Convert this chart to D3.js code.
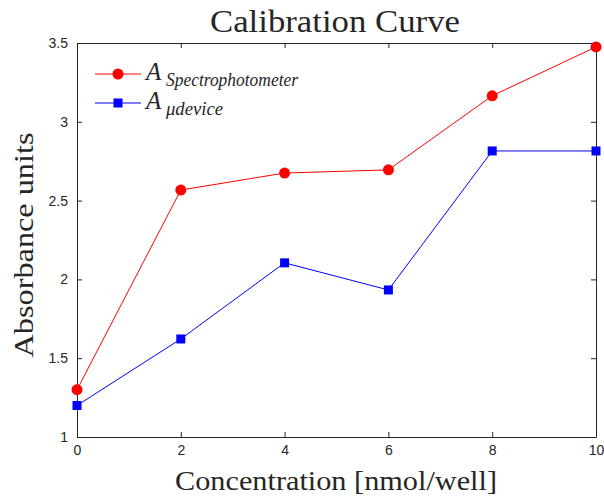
<!DOCTYPE html>
<html>
<head>
<style>
  body { margin: 0; background: #fff; }
  .tick line, .domain { stroke: #262626; }
  .lbl { font-family: "Liberation Serif", "DejaVu Serif", serif; fill: #262626; }
</style>
</head>
<body>
<div id="chart"></div>
<script src="https://cdn.jsdelivr.net/npm/d3@7"></script>
<script>
var width = 604, height = 498;
var margin = {top: 43, right: 8, bottom: 61, left: 77};

// data
var concentration = [0, 2, 4, 6, 8, 10];
var spectro = [1.30, 2.567, 2.675, 2.695, 3.165, 3.475];
var udevice = [1.20, 1.622, 2.105, 1.933, 2.815, 2.815];
var xTicks = [0, 2, 4, 6, 8, 10];
var yTicks = [1, 1.5, 2, 2.5, 3, 3.5];

var svg = d3.select("#chart").append("svg")
    .attr("width", width)
    .attr("height", height);

var x = d3.scaleLinear().domain([0, 10]).range([margin.left, width - margin.right]);
var y = d3.scaleLinear().domain([1, 3.5]).range([height - margin.bottom, margin.top]);

// axes, ticks pointing inward, mirrored on top/right
svg.append("g").attr("transform", "translate(0," + y(1) + ")")
    .call(d3.axisBottom(x).tickValues(xTicks).tickSizeInner(-5).tickSizeOuter(0).tickPadding(8));
svg.append("g").attr("transform", "translate(0," + y(3.5) + ")")
    .call(d3.axisTop(x).tickValues(xTicks).tickSizeInner(-5).tickSizeOuter(0).tickFormat(""));
svg.append("g").attr("transform", "translate(" + x(0) + ",0)")
    .call(d3.axisLeft(y).tickValues(yTicks).tickSizeInner(-5).tickSizeOuter(0).tickPadding(9).tickFormat(d3.format("")));
svg.append("g").attr("transform", "translate(" + x(10) + ",0)")
    .call(d3.axisRight(y).tickValues(yTicks).tickSizeInner(-5).tickSizeOuter(0).tickFormat(""));

svg.selectAll(".tick text")
    .style("font-family", "'Liberation Sans', Arial, sans-serif")
    .style("font-size", "14px")
    .style("fill", "#262626");

var line = d3.line().x(d => x(d[0])).y(d => y(d[1]));

var redData = concentration.map((c, i) => [c, spectro[i]]);
var blueData = concentration.map((c, i) => [c, udevice[i]]);

svg.append("path").datum(redData).attr("d", line)
    .attr("fill", "none").attr("stroke", "#ff0000").attr("stroke-width", 1);
svg.append("path").datum(blueData).attr("d", line)
    .attr("fill", "none").attr("stroke", "#0000ff").attr("stroke-width", 1);

svg.selectAll(".dot").data(redData).enter().append("circle")
    .attr("cx", d => x(d[0])).attr("cy", d => y(d[1])).attr("r", 5.5)
    .attr("fill", "#ff0000");
svg.selectAll(".sq").data(blueData).enter().append("rect")
    .attr("x", d => x(d[0]) - 4.5).attr("y", d => y(d[1]) - 4.5)
    .attr("width", 9).attr("height", 9)
    .attr("fill", "#0000ff");

// title and axis labels
svg.append("text").attr("class", "lbl")
    .attr("x", 335).attr("y", 32)
    .attr("text-anchor", "middle").attr("font-size", 32)
    .attr("textLength", 250).attr("lengthAdjust", "spacingAndGlyphs")
    .text("Calibration Curve");
svg.append("text").attr("class", "lbl")
    .attr("x", 336).attr("y", 490)
    .attr("text-anchor", "middle").attr("font-size", 27)
    .attr("textLength", 322).attr("lengthAdjust", "spacingAndGlyphs")
    .text("Concentration [nmol/well]");
svg.append("text").attr("class", "lbl")
    .attr("transform", "translate(33,245) rotate(-90)")
    .attr("text-anchor", "middle").attr("font-size", 27)
    .attr("textLength", 225).attr("lengthAdjust", "spacingAndGlyphs")
    .text("Absorbance units");

// legend
var legend = [
  {name: "Spectrophotometer", color: "#ff0000", shape: "circle", y: 74, len: 132},
  {name: "\u03bcdevice", color: "#0000ff", shape: "square", y: 103, len: 57}
];
legend.forEach(function(l) {
  svg.append("line").attr("x1", 95).attr("x2", 141).attr("y1", l.y).attr("y2", l.y)
      .attr("stroke", l.color).attr("stroke-width", 1);
  if (l.shape === "circle") {
    svg.append("circle").attr("cx", 118).attr("cy", l.y).attr("r", 5.5).attr("fill", l.color);
  } else {
    svg.append("rect").attr("x", 113.5).attr("y", l.y - 4.5).attr("width", 9).attr("height", 9).attr("fill", l.color);
  }
  svg.append("text").attr("class", "lbl").attr("x", 146).attr("y", l.y + 6)
      .attr("font-style", "italic").attr("font-size", 25).text("A");
  svg.append("text").attr("class", "lbl").attr("x", 166).attr("y", l.y + 12)
      .attr("font-style", "italic").attr("font-size", 18)
      .attr("textLength", l.len).attr("lengthAdjust", "spacingAndGlyphs")
      .text(l.name);
});
</script>
</body>
</html>
